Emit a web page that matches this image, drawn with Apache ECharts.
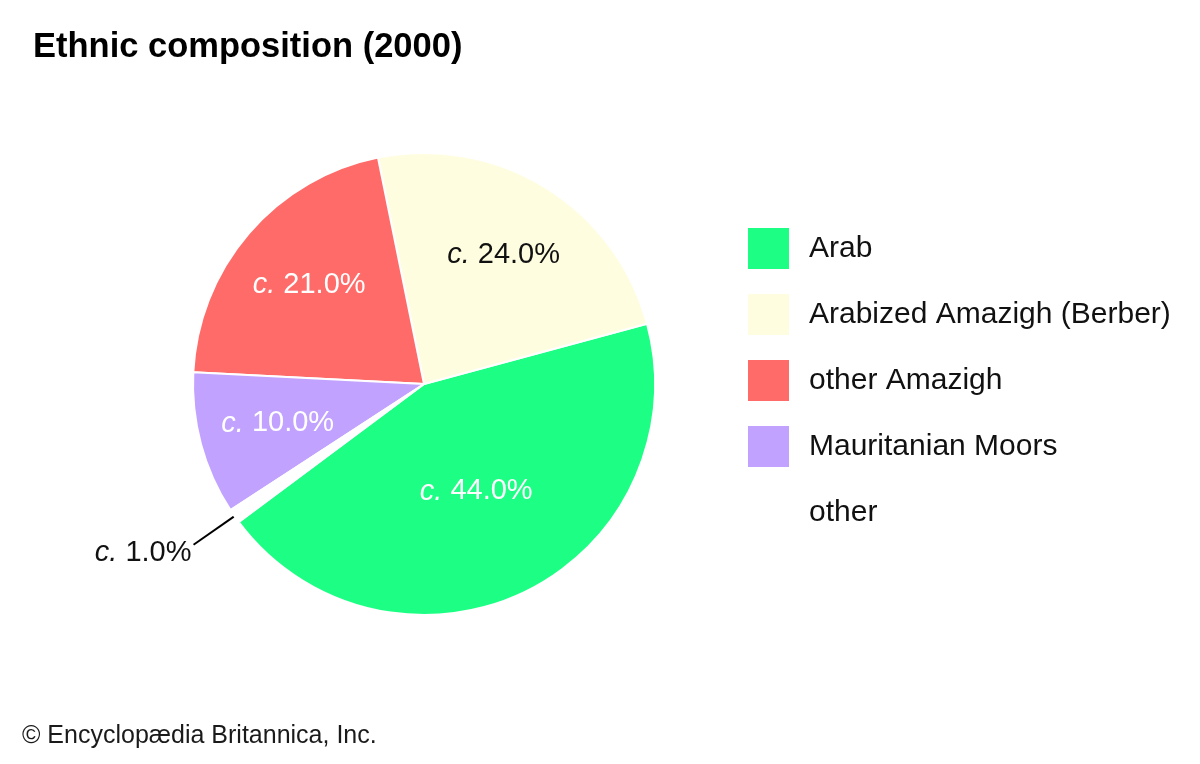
<!DOCTYPE html>
<html>
<head>
<meta charset="utf-8">
<script src="https://cdn.jsdelivr.net/npm/echarts@6/dist/echarts.min.js"></script>
<style>
html,body{margin:0;padding:0;background:#fff;}
#chart{width:1200px;height:764px;}
</style>
</head>
<body>
<div id="chart"></div>
<script>
const categories = ['Arab', 'Arabized Amazigh (Berber)', 'other Amazigh', 'Mauritanian Moors', 'other'];
const values = [44.0, 24.0, 21.0, 10.0, 1.0];
const colors = ['#1cff84', '#fffde0', '#ff6b69', '#c2a2ff', '#ffffff'];
const labelColors = ['#ffffff', '#111111', '#ffffff', '#ffffff', '#111111'];

const FONT = '"Liberation Sans", Arial, Helvetica, sans-serif';
const CENTER = [424, 384];
const R = 231;
const START = 216.7;

function fmt(v) { return '{i|c.}{n| ' + v.toFixed(1) + '%}'; }
function rich(color, padTop) {
  return {
    i: { fontStyle: 'italic', fontSize: 29, color: color, fontFamily: FONT, padding: [padTop || 0, 0, 0, 0] },
    n: { fontSize: 29, color: color, fontFamily: FONT, padding: [padTop || 0, 0, 0, 0] }
  };
}

// main pie
const mainData = categories.map((c, i) => {
  const d = { name: c, value: values[i], itemStyle: { color: colors[i] }, label: { show: false }, labelLine: { show: false } };
  if (i === 4) {
    d.label = { show: true, position: 'outside', formatter: fmt(values[i]), rich: rich(labelColors[i], 16), distanceToLabelLine: 2 };
    d.labelLine = { show: true, length: 50, length2: 0, lineStyle: { color: '#000', width: 2 } };
  }
  return d;
});

// transparent label pies (labels at different radii)
function labelData(which) {
  return categories.map((c, i) => ({
    name: c, value: values[i],
    itemStyle: { color: 'rgba(0,0,0,0)', borderWidth: 0 },
    label: { show: which.indexOf(i) >= 0, position: 'inside', formatter: fmt(values[i]), rich: rich(labelColors[i]) }
  }));
}

const chart = echarts.init(document.getElementById('chart'));
chart.setOption({
  backgroundColor: '#ffffff',
  animation: false,
  title: [
    { text: 'Ethnic composition (2000)', left: 28, top: 25,
      textStyle: { fontFamily: FONT, fontSize: 34.5, fontWeight: 'bold', color: '#000' } },
    { text: '© Encyclopædia Britannica, Inc.', left: 17, top: 719,
      textStyle: { fontFamily: FONT, fontSize: 25, fontWeight: 'normal', color: '#1a1a1a' } }
  ],
  legend: {
    orient: 'vertical', left: 746, top: 226, padding: 0,
    itemWidth: 43, itemHeight: 43, itemGap: 21,
    icon: 'rect',
    data: categories,
    selectedMode: false,
    textStyle: { fontFamily: FONT, fontSize: 30, color: '#111', padding: [0, 0, 0, 14] }
  },
  series: [
    {
      type: 'pie', center: CENTER, radius: R, startAngle: START, clockwise: false,
      avoidLabelOverlap: false, silent: true,
      itemStyle: { borderColor: '#ffffff', borderWidth: 2 },
      data: mainData
    },
    {
      type: 'pie', center: CENTER, radius: [66, R], startAngle: START, clockwise: false,
      avoidLabelOverlap: false, silent: true, labelLine: { show: false },
      data: labelData([1, 2, 3])
    },
    {
      type: 'pie', center: CENTER, radius: [2, R], startAngle: START, clockwise: false,
      avoidLabelOverlap: false, silent: true, labelLine: { show: false },
      data: labelData([0])
    }
  ]
});
</script>
</body>
</html>
